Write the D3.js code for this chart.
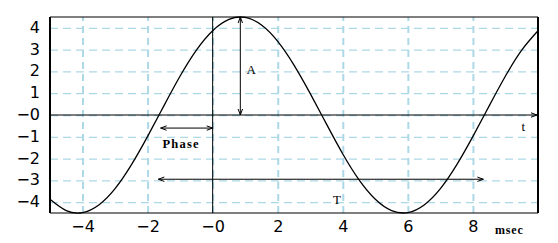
<!DOCTYPE html>
<html><head><meta charset="utf-8">
<script src="https://cdn.jsdelivr.net/npm/d3@7"></script>
<style>
html,body{margin:0;padding:0;background:#fff;}
svg{display:block;}
</style></head>
<body>
<script>
// ---- data ----
const timeMs = [-5,-4.5,-4,-3.5,-3,-2.5,-2,-1.5,-1,-0.5,0,0.5,1,1.5,2,2.5,3,3.5,4,4.5,5,5.5,6,6.5,7,7.5,8,8.5,9,9.5,10];
const voltage = [-3.87,-4.39,-4.48,-4.13,-3.38,-2.29,-0.98,0.42,1.79,2.98,3.87,4.39,4.48,4.13,3.38,2.29,0.98,-0.42,-1.79,-2.98,-3.87,-4.39,-4.48,-4.13,-3.38,-2.29,-0.98,0.42,1.79,2.98,3.87];
const xTicks = [-4,-2,0,2,4,6,8];
const xTickLabels = ["\u22124","\u22122","\u22120","2","4","6","8"];
const yTicks = [4,3,2,1,0,-1,-2,-3,-4];
const yTickLabels = ["4","3","2","1","\u22120","\u22121","\u22122","\u22123","\u22124"];
const xDomain = [-5,10];
const yDomain = [-4.5,4.5];
const phaseArrow = {x0:-1.6, x1:0, y:-0.6, label:"Phase"};
const periodArrow = {x0:-1.67, x1:8.32, y:-2.95, label:"T"};
const ampArrow = {x:0.85, y0:0, y1:4.5, label:"A"};
const xUnit = "msec", tLabel = "t";

// ---- layout ----
const W = 558, H = 243;
const pL = 50, pR = 538, pT = 17, pB = 213;
const svg = d3.select("body").append("svg").attr("width",W).attr("height",H);
const x = d3.scaleLinear().domain(xDomain).range([pL,pR]);
const y = d3.scaleLinear().domain(yDomain).range([pB,pT]);

const defs = svg.append("defs");
function mk(id, d){
  defs.append("marker").attr("id",id).attr("viewBox","0 0 8 6")
    .attr("refX", id==="ae"?7:1).attr("refY",3)
    .attr("markerWidth",8).attr("markerHeight",6).attr("markerUnits","userSpaceOnUse")
    .attr("orient","auto")
    .append("path").attr("d",d).attr("fill","none").attr("stroke","#000").attr("stroke-width",1);
}
mk("ae","M1,0.8 L7,3 L1,5.2");
mk("as","M7,0.8 L1,3 L7,5.2");

// grid
const gx = svg.append("g").attr("transform",`translate(0,${pB})`)
  .call(d3.axisBottom(x).tickValues(xTicks).tickSize(-(pB-pT)).tickFormat(""));
gx.select(".domain").remove();
gx.selectAll("line").attr("stroke","#add8e6").attr("stroke-width",2).attr("stroke-dasharray","7,5");
const gy = svg.append("g").attr("transform",`translate(${pL},0)`)
  .call(d3.axisLeft(y).tickValues(yTicks).tickSize(-(pR-pL)).tickFormat(""));
gy.select(".domain").remove();
gy.selectAll("line").attr("stroke","#add8e6").attr("stroke-width",1.3).attr("stroke-dasharray","8,5");

// tick labels
const ax = svg.append("g").attr("transform",`translate(0,${pB})`)
  .call(d3.axisBottom(x).tickValues(xTicks).tickSize(0).tickPadding(8)
    .tickFormat((d,i)=>xTickLabels[i]));
ax.select(".domain").remove();
ax.selectAll("text").attr("font-family","DejaVu Sans").attr("font-size",16).attr("fill","#000");
const ay = svg.append("g").attr("transform",`translate(${pL},0)`)
  .call(d3.axisLeft(y).tickValues(yTicks).tickSize(0).tickPadding(10)
    .tickFormat((d,i)=>yTickLabels[i]));
ay.select(".domain").remove();
ay.selectAll("text").attr("font-family","DejaVu Sans").attr("font-size",16).attr("fill","#000").attr("dy","0.28em");

// frame
svg.append("line").attr("x1",pL).attr("x2",pR).attr("y1",pT).attr("y2",pT).attr("stroke","#000").attr("stroke-width",1.2);
svg.append("line").attr("x1",pL).attr("x2",pR).attr("y1",pB).attr("y2",pB).attr("stroke","#000").attr("stroke-width",1.2);
svg.append("line").attr("x1",pL).attr("x2",pL).attr("y1",pT).attr("y2",pB).attr("stroke","#000").attr("stroke-width",2);
svg.append("line").attr("x1",pR).attr("x2",pR).attr("y1",pT).attr("y2",pB).attr("stroke","#000").attr("stroke-width",2);

// axes through origin
svg.append("line").attr("x1",x(0)).attr("x2",x(0)).attr("y1",pT).attr("y2",pB).attr("stroke","#000").attr("stroke-width",1);
svg.append("line").attr("x1",pL).attr("x2",pR-1).attr("y1",y(0)).attr("y2",y(0)).attr("stroke","#000").attr("stroke-width",1).attr("marker-end","url(#ae)");

// curve
const line = d3.line().x((d,i)=>x(timeMs[i])).y(d=>y(d)).curve(d3.curveNatural);
svg.append("path").datum(voltage).attr("d",line).attr("fill","none").attr("stroke","#000").attr("stroke-width",1.3);

// annotations
function arrow(x1,y1,x2,y2){
  svg.append("line").attr("x1",x1).attr("y1",y1).attr("x2",x2).attr("y2",y2)
    .attr("stroke","#000").attr("stroke-width",1)
    .attr("marker-start","url(#as)").attr("marker-end","url(#ae)");
}
arrow(x(phaseArrow.x0),y(phaseArrow.y),x(phaseArrow.x1),y(phaseArrow.y));
arrow(x(periodArrow.x0),y(periodArrow.y),x(periodArrow.x1),y(periodArrow.y));
arrow(x(ampArrow.x),y(ampArrow.y0),x(ampArrow.x),y(ampArrow.y1));

const serif = "Liberation Serif";
svg.append("text").attr("x",162.5).attr("y",148.3).attr("font-family",serif).attr("font-weight","bold")
  .attr("font-size",12.5).attr("letter-spacing",1.2).text(phaseArrow.label);
svg.append("text").attr("x",333).attr("y",203.5).attr("font-family",serif)
  .attr("font-size",13).text(periodArrow.label);
svg.append("text").attr("x",246.5).attr("y",73.5).attr("font-family",serif)
  .attr("font-size",13).text(ampArrow.label);
svg.append("text").attr("x",521.5).attr("y",131).attr("font-family",serif)
  .attr("font-size",13).text(tLabel);
svg.append("text").attr("x",495).attr("y",233.5).attr("font-family",serif).attr("font-weight","bold")
  .attr("font-size",12).attr("letter-spacing",0.8).text(xUnit);
</script>
</body></html>
